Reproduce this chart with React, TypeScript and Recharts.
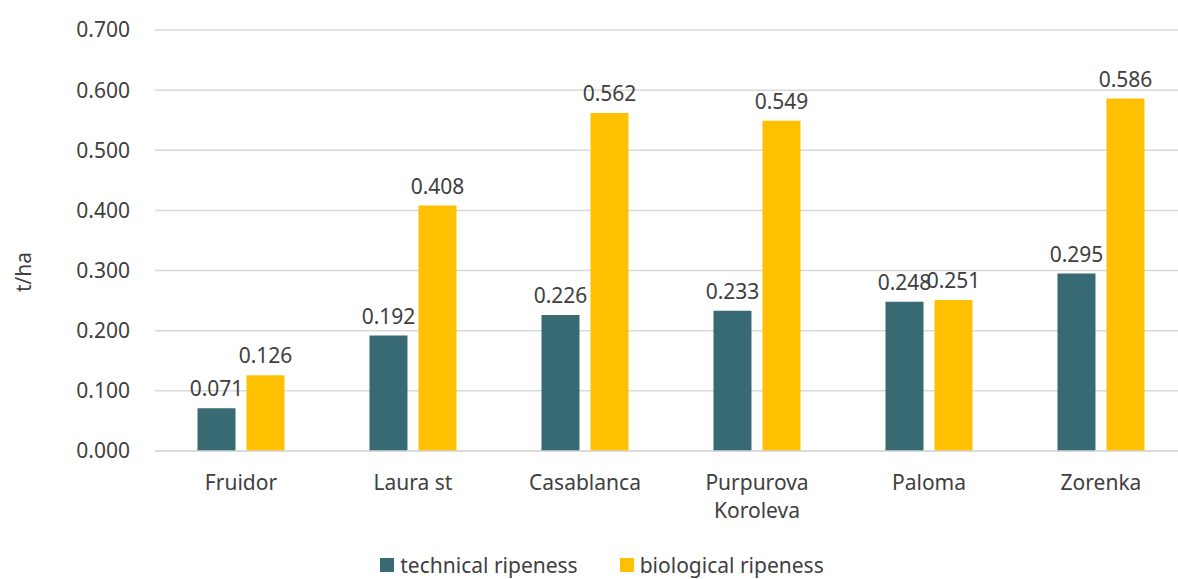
import { Bar, BarChart, CartesianGrid, LabelList, Legend, XAxis, YAxis } from "recharts";

const varieties = ["Fruidor", "Laura st", "Casablanca", "Purpurova Koroleva", "Paloma", "Zorenka"];
const technical = [0.071, 0.192, 0.226, 0.233, 0.248, 0.295];
const biological = [0.126, 0.408, 0.562, 0.549, 0.251, 0.586];
const yTicks = [0, 0.1, 0.2, 0.3, 0.4, 0.5, 0.6, 0.7];

const DARK = "#376a73";
const GOLD = "#ffc000";
const TEXT = "#404040";
const FONT = "'Noto Sans', sans-serif";

const data = varieties.map((name, i) => ({
  name,
  technical: technical[i],
  biological: biological[i],
}));

function CategoryTick({ x, y, payload }: any) {
  const lines = String(payload.value) === "Purpurova Koroleva" ? ["Purpurova", "Koroleva"] : [payload.value];
  return (
    <text x={x} y={y} textAnchor="middle" fill={TEXT} fontSize={21} fontFamily={FONT}>
      {lines.map((l: string, i: number) => (
        <tspan key={i} x={x} dy={i === 0 ? 39 : 28}>
          {l}
        </tspan>
      ))}
    </text>
  );
}

function LegendBox() {
  const item = (color: string, label: string) => (
    <div style={{ display: "flex", alignItems: "center", gap: 6 }}>
      <span style={{ width: 14, height: 14, background: color, display: "inline-block" }} />
      <span>{label}</span>
    </div>
  );
  return (
    <div
      style={{
        display: "flex",
        justifyContent: "center",
        gap: 42,
        paddingTop: 12,
        paddingLeft: 17,
        fontFamily: FONT,
        fontSize: 21,
        color: TEXT,
        lineHeight: "28px",
      }}
    >
      {item(DARK, "technical ripeness")}
      {item(GOLD, "biological ripeness")}
    </div>
  );
}

export default function App() {
  return (
    <div style={{ position: "absolute", left: 0, top: 0, width: 1178, height: 579, overflow: "hidden", background: "#fff" }}>
      <BarChart
        width={1195}
        height={579}
        data={data}
        margin={{ top: 30, right: 8, bottom: 0, left: 0 }}
        barGap={11}
        barCategoryGap="24.7%"
      >
        <CartesianGrid vertical={false} stroke="#d9d9d9" strokeWidth={1.5} />
        <XAxis
          dataKey="name"
          height={88}
          tickLine={false}
          axisLine={{ stroke: "#d9d9d9", strokeWidth: 1.5 }}
          tickSize={0}
          tickMargin={0}
          interval={0}
          tick={<CategoryTick />}
        />
        <YAxis
          width={155}
          domain={[0, 0.7]}
          ticks={yTicks}
          tickFormatter={(v) => Number(v).toFixed(3)}
          axisLine={false}
          tickLine={false}
          tickSize={0}
          tickMargin={25}
          tick={{ fill: TEXT, fontSize: 21, fontFamily: FONT }}
          label={{
            content: ({ viewBox }: any) => (
              <text
                x={31}
                y={272}
                transform="rotate(-90, 31, 272)"
                textAnchor="middle"
                fill={TEXT}
                fontSize={21}
                fontFamily={FONT}
              >
                t/ha
              </text>
            ),
          }}
        />
        <Legend verticalAlign="bottom" height={40} content={<LegendBox />} />
        <Bar dataKey="technical" name="technical ripeness" fill={DARK} isAnimationActive={false}>
          <LabelList
            dataKey="technical"
            position="top"
            offset={12}
            formatter={(v: any) => Number(v).toFixed(3)}
            style={{ fill: TEXT, fontSize: 21, fontFamily: FONT }}
          />
        </Bar>
        <Bar dataKey="biological" name="biological ripeness" fill={GOLD} isAnimationActive={false}>
          <LabelList
            dataKey="biological"
            position="top"
            offset={12}
            formatter={(v: any) => Number(v).toFixed(3)}
            style={{ fill: TEXT, fontSize: 21, fontFamily: FONT }}
          />
        </Bar>
      </BarChart>
    </div>
  );
}
